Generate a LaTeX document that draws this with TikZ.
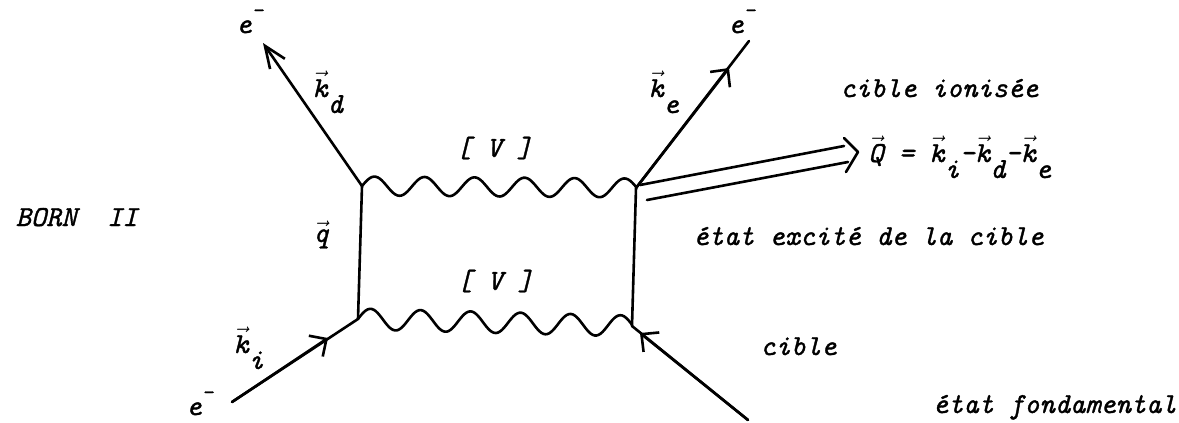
\documentclass[tikz,border=0pt]{standalone}
\usepackage{fontspec}
\usepackage{graphicx}
\usetikzlibrary{arrows.meta}
\newfontfamily\typew{Latin Modern Mono}[FakeBold=1.2]
\newcommand\kv[1]{$\vec{\mbox{k}}$\raisebox{-0.55em}{#1}}
\newcommand\elec{e\raisebox{0.55em}{\fontsize{11}{11}\selectfont -}}
\begin{document}
\begin{tikzpicture}[x=0.5pt,y=-0.5pt,
  ln/.style={line width=1.3pt, line cap=round, line join=round},
  tipbarb/.style={-{Straight Barb[length=6.4pt,width=12.5pt,line width=1.3pt]}},
  tipnarrow/.style={-{Straight Barb[length=11pt,width=9pt,line width=1.3pt]}},
  lbl/.style={font=\fontsize{14.5}{17}\selectfont\typew\itshape, inner sep=0pt}]
\useasboundingbox (0,0) rectangle (1179,423);
% vertices
\coordinate (A) at (362,186);
\coordinate (B) at (358,319);
\coordinate (C) at (636,188);
\coordinate (D) at (632,326);
% free ends
\coordinate (e1) at (263,43);
\coordinate (e2) at (749,41);
\coordinate (e3) at (232,402);
\coordinate (e4) at (748,420);
\coordinate (a2) at (729,68);
\coordinate (a3) at (328,338);
\coordinate (a4) at (640,333);
% double line to Q
\coordinate (qu1) at (640,185);
\coordinate (qu2) at (844,146);
\coordinate (ql1) at (647,200);
\coordinate (ql2) at (848,162);
\coordinate (qb1) at (844,138);
\coordinate (qt) at (858,152);
\coordinate (qb2) at (846,172);

% propagators
\draw[ln] (A) -- (B);
\draw[ln] (C) -- (D);
% wavy interaction lines A--C and B--D
\draw[ln] plot[domain=0:274, samples=140, smooth] ({362+\x}, {186+\x*2/274 - 9.5*sin(\x*7.2)});
\draw[ln] plot[domain=0:274, samples=140, smooth] ({358+\x}, {319+\x*7/274 - 10.5*sin(\x*7.2)});
% external lines
\draw[ln, tipnarrow] (A) -- (e1);
\draw[ln] (C) -- (e2);
\draw[ln, tipbarb] (C) -- (a2);
\draw[ln] (e3) -- (B);
\draw[ln, tipbarb] (e3) -- (a3);
\draw[ln] (e4) -- (D);
\draw[ln, tipbarb] (e4) -- (a4);
% double arrow
\draw[ln] (qu1) -- (qu2);
\draw[ln] (ql1) -- (ql2);
\draw[ln] (qb1) -- (qt) -- (qb2);

% labels
\node[lbl, anchor=base west] (eTL) at (236,33) {\elec};
\node[lbl, anchor=base west] (kd) at (312,97) {\kv{d}};
\node[lbl, anchor=base west] (eTR) at (728,33) {\elec};
\node[lbl, anchor=base west] (ke) at (648,97) {\kv{e}};
\node[lbl] (V1) at (494,148) {[ V ]};
\node[lbl] (V2) at (495,281) {[ V ]};
\node[lbl, anchor=base west] (q) at (313,242) {$\vec{\mbox{q}}$};
\node[lbl, anchor=base west] (ki) at (233,353) {\kv{i}};
\node[lbl, anchor=base west] (eBL) at (186,415) {\elec};
\node[lbl, anchor=base east] (born) at (138,226) {BORN\ \ II};
\node[lbl, anchor=base west] (ion) at (840,97) {cible ionisée};
\node[lbl, anchor=base west] (Qt) at (868,162) {$\vec{\mbox{Q}}$ = \kv{i}-\kv{d}-\kv{e}};
\node[lbl, anchor=base west] (exc) at (693,245) {état excité de la cible};
\node[lbl, anchor=base west] (cib) at (760,355) {cible};
\node[lbl, anchor=base east] (fond) at (1177,413) {état fondamental};
\end{tikzpicture}
\end{document}
